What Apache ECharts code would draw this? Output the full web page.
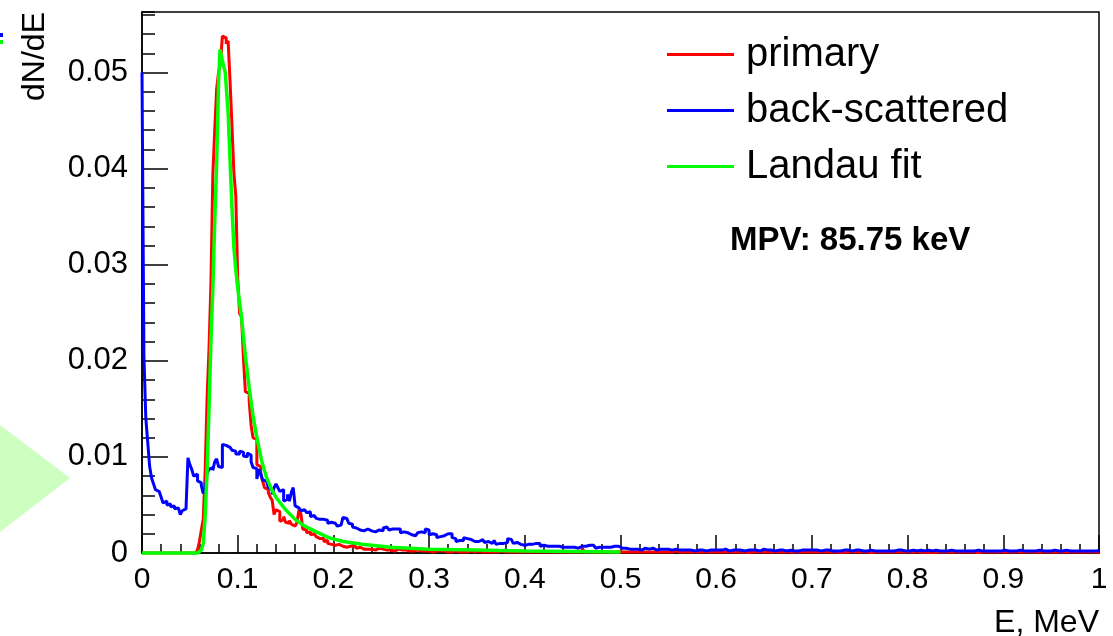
<!DOCTYPE html>
<html>
<head>
<meta charset="utf-8">
<script src="https://cdn.jsdelivr.net/npm/echarts@6/dist/echarts.min.js"></script>
<style>
html,body{margin:0;padding:0;background:#fff;}
#chart{width:1113px;height:636px;}
</style>
</head>
<body>
<div id="chart"></div>
<script>
// Histogram: 500 bins of 2 keV over 0..1 MeV
const binWidth = 0.002;

const primary = [
0,0,0,0,0,0,0,0,0,0,
0,0,0,0,0,0,0,0,0,0,
0,0,0,0,0,0,0,0,0,0.0003,
0.0012,0.0024,0.0035,0.0085,0.0161,0.0212,0.0279,0.0393,0.0440,0.0483,
0.0500,0.0510,0.0538,0.0536,0.0530,0.0533,0.0491,0.0445,0.0396,0.0372,
0.0286,0.0249,0.0246,0.0203,0.0168,0.0166,0.0158,0.0133,0.0120,0.0118,
0.0092,0.0090,0.0082,0.0075,0.0068,0.0066,0.0063,0.0058,0.0055,0.0040,
0.0045,0.0043,0.0033,0.0035,0.0038,0.0032,0.0031,0.0034,0.0030,0.0028,
0.0026,0.0032,0.0045,0.0041,0.0025,0.0024,0.0021,0.0022,0.0019,0.0020,
0.0018,0.0017,0.0015,0.0014,0.0015,0.0012,0.0013,0.0010,0.0009,0.0011,
0.0008,0.0007,0.0009,0.0008,0.0007,0.0008,0.0006,0.0007,0.0007,0.0006,
0.0008,0.0006,0.0005,0.0006,0.0006,0.0004,0.0005,0.0004,0.0005,0.0004,
0.0004,0.0003,0.0004,0.0005,0.0003,0.0004,0.0003,0.0003,0.0004,0.0003,
0.0003,0.0002,0.0003,0.0004,0.0002,0.0003,0.0002,0.0003,0.0002,0.0002,
0.0003,0.0002,0.0002,0.0003,0.0002,0.0002,0.0001,0.0002,0.0003,0.0002,
0.0002,0.0001,0.0002,0.0002,0.0001,0.0002,0.0001,0.0002,0.0001,0.0001,
0.0002,0.0001,0.0001,0.0002,0.0001,0.0001,0.0002,0.0001,0.0001,0.0001,
0.0001,0.0002,0.0001,0.0001,0.0001,0.0002,0.0001,0.0001,0.0001,0.0001,
0.0001,0.0001,0.0002,0.0001,0.0001,0.0001,0.0001,0.0002,0.0001,0.0001,
0.0001,0.0001,0.0001,0.0001,0.0002,0.0001,0.0001,0.0001,0.0001,0.0001,
0.0001,0.0001,0.0001,0.0001,0.0001,0.0001,0.0002,0.0001,0.0001,0.0001,
0.0001,0.0001,0.0001,0.0001,0.0001,0.0001,0.0001,0.0001,0.0001,0.0001,
0.0001,0.0001,0.0001,0.0001,0.0001,0.0001,0.0001,0.0001,0.0001,0.0001,
0.0005,0.0001,0.0001,0.0001,0.0001,0.0001,0.0001,0.0001,0.0001,0.0001,
0.0001,0.0001,0.0001,0.0001,0.0001,0.0001,0.0001,0.0001,0.0001,0.0001,
0.0001,0.0001,0.0001,0.0001,0.0001,0.0001,0.0001,0.0002,0.0001,0.0001,
0.0001,0.0001,0.0001,0.0001,0.0001,0.0001,0.0001,0.0001,0.0001,0.0001,
0.0001,0.0001,0.0001,0.0001,0.0001,0.0001,0.0001,0.0001,0.0002,0.0001,
0.0001,0.0001,0.0001,0.0001,0.0001,0.0001,0.0001,0.0001,0.0001,0.0001,
0.0001,0.0001,0.0001,0.0001,0.0001,0.0001,0.0001,0.0001,0.0001,0.0001,
0.0001,0.0001,0.0001,0.00005,0.0001,0.0001,0.0001,0.0001,0.0001,0.0001,
0.0001,0.0001,0.0001,0.0001,0.0001,0.0001,0.00005,0.0001,0.0001,0.0001,
0.0001,0.0001,0.0001,0.0001,0.0001,0.0001,0.0001,0.0001,0.0001,0.00005,
0.0001,0.0001,0.0001,0.0001,0.0001,0.0001,0.0001,0.0001,0.0001,0.0001,
0.0001,0.00005,0.0001,0.0001,0.0001,0.0001,0.0001,0.0001,0.0001,0.0001,
0.0001,0.0001,0.0001,0.0001,0.0001,0.0001,0.0001,0.00005,0.0001,0.0001,
0.0001,0.0001,0.0001,0.0001,0.00005,0.0001,0.0001,0.0001,0.0001,0.0001,
0.0001,0.0001,0.0001,0.0001,0.0001,0.0001,0.0001,0.0001,0.0001,0.0001,
0.00005,0.0001,0.0001,0.0001,0.0001,0.0001,0.0001,0.0001,0.0001,0.0001,
0.0001,0.0001,0.0001,0.0001,0.0001,0.00005,0.0001,0.0001,0.0001,0.0001,
0.0001,0.0001,0.0001,0.0001,0.0001,0.0001,0.0001,0.0001,0.00005,0.0001,
0.0001,0.0001,0.00005,0.0001,0.0001,0.0001,0.0001,0.0001,0.0001,0.0001,
0.0001,0.0001,0.0001,0.0001,0.0001,0.0001,0.0001,0.0001,0.0001,0.0001,
0.0001,0.0001,0.0001,0.0001,0.0001,0.0001,0.00005,0.0001,0.0001,0.0001,
0.0001,0.0001,0.0001,0.00005,0.0001,0.0001,0.0001,0.0001,0.0001,0.0001,
0.0001,0.0001,0.0001,0.0001,0.0001,0.0001,0.0001,0.0001,0.0001,0.0001,
0.0001,0.0001,0.0001,0.0001,0.0001,0.0001,0.0001,0.0001,0.0001,0.0001,
0.0001,0.00005,0.0001,0.0001,0.0001,0.0001,0.0001,0.0001,0.0001,0.0001,
0.0001,0.0001,0.0001,0.0001,0.0001,0.0001,0.0001,0.00005,0.0001,0.0001,
0.0001,0.0001,0.0001,0.0001,0.0001,0.0001,0.0001,0.0001,0.0001,0.0001
];

const backScattered = [
0.0500,0.0205,0.0140,0.0115,0.0090,0.0078,0.0072,0.0066,0.0064,0.0063,
0.0058,0.0052,0.0054,0.0050,0.0051,0.0048,0.0049,0.0046,0.0047,0.0045,
0.0040,0.0044,0.0046,0.0046,0.0099,0.0092,0.0087,0.0080,0.0082,0.0075,
0.0073,0.0070,0.0062,0.0066,0.0083,0.0087,0.0089,0.0086,0.0095,0.0098,
0.0090,0.0089,0.0113,0.0112,0.0111,0.0110,0.0109,0.0107,0.0106,0.0103,
0.0103,0.0106,0.0105,0.0101,0.0100,0.0104,0.0102,0.0095,0.0089,0.0088,
0.0077,0.0087,0.0083,0.0076,0.0075,0.0073,0.0068,0.0066,0.0061,0.0068,
0.0072,0.0068,0.0064,0.0066,0.0054,0.0056,0.0061,0.0054,0.0063,0.0068,
0.0049,0.0047,0.0047,0.0044,0.0045,0.0044,0.0042,0.0043,0.0038,0.0039,
0.0038,0.0036,0.0035,0.0037,0.0035,0.0033,0.0034,0.0031,0.0032,0.0030,
0.0031,0.0029,0.0028,0.0029,0.0027,0.0037,0.0036,0.0038,0.0031,0.0030,
0.0027,0.0026,0.0026,0.0024,0.0023,0.0023,0.0024,0.0025,0.0025,0.0023,
0.0021,0.0022,0.0020,0.0024,0.0025,0.0023,0.0026,0.0027,0.0025,0.0024,
0.0025,0.0026,0.0025,0.0024,0.0025,0.0021,0.0022,0.0020,0.0021,0.0020,
0.0019,0.0020,0.0018,0.0019,0.0021,0.0022,0.0020,0.0021,0.0025,0.0024,
0.0019,0.0020,0.0018,0.0019,0.0016,0.0017,0.0016,0.0018,0.0017,0.0020,
0.0019,0.0020,0.0016,0.0015,0.0012,0.0013,0.0012,0.0013,0.0016,0.0015,
0.0015,0.0014,0.0015,0.0012,0.0013,0.0012,0.0012,0.0014,0.0013,0.0011,
0.0012,0.0011,0.0010,0.0012,0.0013,0.0009,0.0010,0.0009,0.0010,0.0010,
0.0011,0.0015,0.0014,0.0015,0.0010,0.0011,0.0010,0.0009,0.0007,0.0008,
0.0007,0.0009,0.0008,0.0009,0.0009,0.0010,0.0009,0.0010,0.0007,0.0008,
0.0007,0.0007,0.0006,0.0007,0.0006,0.0007,0.0008,0.0007,0.0006,0.0006,
0.0005,0.0006,0.0007,0.0006,0.0007,0.0006,0.0006,0.0005,0.0006,0.0007,
0.0006,0.0007,0.0009,0.0008,0.0009,0.0008,0.0006,0.0005,0.0006,0.0007,
0.0006,0.0007,0.0006,0.0005,0.0006,0.0006,0.0007,0.0008,0.0007,0.0007,
0.0005,0.0006,0.0005,0.0003,0.0004,0.0003,0.0004,0.0005,0.0004,0.0004,
0.0003,0.0004,0.0005,0.0004,0.0004,0.0004,0.0005,0.0004,0.0003,0.0004,
0.0004,0.0003,0.0004,0.0003,0.0004,0.0004,0.0003,0.0003,0.0004,0.0003,
0.0003,0.0004,0.0003,0.0002,0.0003,0.0004,0.0003,0.0003,0.0002,0.0003,
0.0003,0.0002,0.0003,0.0003,0.0002,0.0003,0.0003,0.0002,0.0003,0.0003,
0.0003,0.0002,0.0003,0.0003,0.0004,0.0003,0.0002,0.0003,0.0003,0.0002,
0.0003,0.0004,0.0003,0.0003,0.0002,0.0003,0.0003,0.0004,0.0003,0.0002,
0.0003,0.0003,0.0002,0.0003,0.0004,0.0003,0.0003,0.0002,0.0003,0.0003,
0.0002,0.0003,0.0003,0.0002,0.0003,0.0003,0.0002,0.0003,0.0003,0.0003,
0.0002,0.0003,0.0002,0.0003,0.0003,0.0002,0.0003,0.0002,0.0003,0.0003,
0.0003,0.0002,0.0003,0.0002,0.0002,0.0003,0.0003,0.0002,0.0003,0.0002,
0.0002,0.0003,0.0002,0.0003,0.0002,0.0002,0.0003,0.0002,0.0003,0.0002,
0.0002,0.0002,0.0003,0.0002,0.0003,0.0002,0.0002,0.0003,0.0002,0.0002,
0.0003,0.0002,0.0002,0.0003,0.0002,0.0002,0.0002,0.0003,0.0002,0.0002,
0.0002,0.0003,0.0002,0.0002,0.0003,0.0002,0.0003,0.0002,0.0002,0.0003,
0.0002,0.0002,0.0003,0.0002,0.0002,0.0002,0.0003,0.0002,0.0002,0.0002,
0.0003,0.0002,0.0002,0.0002,0.0003,0.0002,0.0002,0.0003,0.0002,0.0002,
0.0002,0.0002,0.0003,0.0002,0.0002,0.0003,0.0002,0.0002,0.0002,0.0003,
0.0002,0.0002,0.0002,0.0003,0.0002,0.0002,0.0003,0.0002,0.0002,0.0002,
0.0002,0.0003,0.0002,0.0002,0.0002,0.0003,0.0002,0.0002,0.0002,0.0002,
0.0003,0.0002,0.0002,0.0002,0.0002,0.0003,0.0002,0.0002,0.0003,0.0002,
0.0002,0.0002,0.0002,0.0003,0.0002,0.0002,0.0002,0.0002,0.0003,0.0002,
0.0002,0.0003,0.0002,0.0002,0.0002,0.0002,0.0003,0.0002,0.0002,0.0002,
0.0002,0.0002,0.0003,0.0002,0.0002,0.0002,0.0002,0.0003,0.0002,0.0002,
0.0002,0.0002,0.0002,0.0003,0.0002,0.0002,0.0002,0.0002,0.0002,0.0003
];

// Landau fit curve
const fitE = [0,0.058,0.062,0.064,0.066,0.068,0.070,0.072,0.074,0.076,0.078,0.080,0.0815,0.084,0.087,0.090,0.092,0.094,0.096,0.098,0.100,0.104,0.108,0.112,0.116,0.120,0.125,0.130,0.135,0.140,0.150,0.160,0.170,0.180,0.195,0.210,0.230,0.260,0.300,0.350,0.400,0.450,0.500];
const fitV = [0,0,0.0003,0.0010,0.0038,0.0085,0.0150,0.0220,0.0275,0.0345,0.0405,0.0490,0.0524,0.0512,0.0500,0.0458,0.0409,0.0360,0.0318,0.0295,0.0276,0.0245,0.0205,0.0172,0.0143,0.0120,0.0096,0.0079,0.0067,0.0058,0.0045,0.0035,0.0028,0.0023,0.0016,0.0012,0.0009,0.0006,0.0004,0.0003,0.0002,0.00015,0.0001];

const seriesNames = ['primary', 'back-scattered', 'Landau fit'];
const mpvText = 'MPV: 85.75 keV';

function histData(vals) {
  const d = vals.map((v, i) => [i * binWidth, v]);
  d.push([vals.length * binWidth, vals[vals.length - 1]]);
  return d;
}

const FONT = 'Liberation Sans';
const Y_MAX = 0.0563;
const chart = echarts.init(document.getElementById('chart'), null, {renderer: 'canvas'});
chart.setOption({
  animation: false,
  backgroundColor: '#fff',
  grid: {left: 142, right: 14, top: 12, bottom: 83, outerBoundsMode: 'none', containLabel: false,
         show: true, borderColor: '#000', borderWidth: 1.5, backgroundColor: 'transparent'},
  title: {
    text: mpvText, left: 730, top: 224, padding: 0,
    textStyle: {fontFamily: FONT, fontWeight: 'bold', fontSize: 33, color: '#000'}
  },
  legend: {
    orient: 'vertical', left: 662, top: 29,
    icon: 'rect', itemWidth: 67, itemHeight: 3, itemGap: 15,
    textStyle: {fontFamily: FONT, fontSize: 40, color: '#000', lineHeight: 41, padding: [0, 0, 0, 7]},
    data: seriesNames
  },
  xAxis: {
    type: 'value', min: 0, max: 1, interval: 0.1,
    axisLine: {show: true, onZero: false, lineStyle: {color: '#000', width: 1.5}},
    axisTick: {show: true, inside: true, length: 18, lineStyle: {color: '#000', width: 1.5}},
    minorTick: {show: true, splitNumber: 5, length: 9, lineStyle: {color: '#000', width: 1.5}},
    splitLine: {show: false}, minorSplitLine: {show: false},
    axisLabel: {margin: 12, fontFamily: FONT, fontSize: 30, color: '#000', showMinLabel: true, showMaxLabel: true},
    name: 'E, MeV', nameLocation: 'end', nameGap: 0,
    nameTextStyle: {fontFamily: FONT, fontSize: 32, color: '#000', align: 'right', verticalAlign: 'top', padding: [54, 0, 0, 0]}
  },
  yAxis: [{
    type: 'value', min: 0, max: Y_MAX, interval: 0.01, position: 'left',
    axisLine: {show: true, onZero: false, lineStyle: {color: '#000', width: 1.5}},
    axisTick: {show: true, inside: true, length: 26, lineStyle: {color: '#000', width: 1.5}},
    splitLine: {show: false},
    axisLabel: {margin: 14, fontFamily: FONT, fontSize: 31, color: '#000', showMaxLabel: false, padding: [10, 0, 0, 0]},
    name: 'dN/dE', nameLocation: 'end', nameGap: 0, nameRotate: 90,
    nameTextStyle: {fontFamily: FONT, fontSize: 32, color: '#000', align: 'right', verticalAlign: 'bottom', padding: [0, 0, 91, 0]}
  }, {
    type: 'value', min: 0, max: Y_MAX, interval: 0.002, position: 'left',
    axisLine: {show: false},
    axisTick: {show: true, inside: true, length: 13, lineStyle: {color: '#000', width: 1.5}},
    axisLabel: {show: false},
    splitLine: {show: false}
  }],
  series: [{
    name: seriesNames[0], type: 'line', step: 'end', showSymbol: false, symbol: 'none', clip: false,
    itemStyle: {color: '#ff0000'}, lineStyle: {color: '#ff0000', width: 3},
    data: histData(primary)
  }, {
    name: seriesNames[1], type: 'line', step: 'end', showSymbol: false, symbol: 'none', clip: false,
    itemStyle: {color: '#0000ff'}, lineStyle: {color: '#0000ff', width: 3},
    data: histData(backScattered)
  }, {
    name: seriesNames[2], type: 'line', showSymbol: false, symbol: 'none', clip: false,
    itemStyle: {color: '#00ff00'}, lineStyle: {color: '#00ff00', width: 3.5},
    data: fitE.map((e, i) => [e, fitV[i]])
  }],
  graphic: [
    {type: 'polygon', shape: {points: [[0, 425], [70, 478], [0, 532]]}, style: {fill: '#ccffc0'}, silent: true},
    {type: 'rect', shape: {x: 0, y: 33, width: 3, height: 4}, style: {fill: '#0000ff'}, silent: true},
    {type: 'rect', shape: {x: 0, y: 40, width: 3, height: 4}, style: {fill: '#00ff00'}, silent: true}
  ]
});
</script>
</body>
</html>
